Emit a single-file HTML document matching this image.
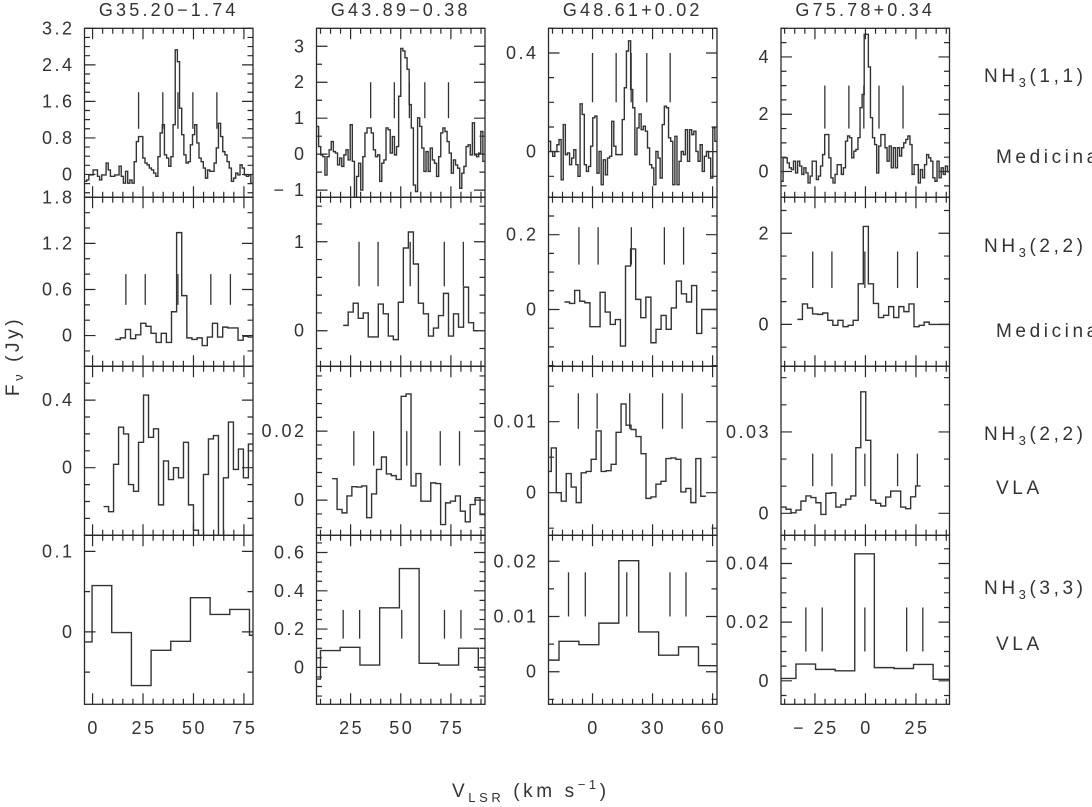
<!DOCTYPE html>
<html><head><meta charset="utf-8"><style>
html,body{margin:0;padding:0;background:#fff;}
svg{display:block;font-family:"Liberation Sans",sans-serif;}
text{fill:#333;font-size:18px;letter-spacing:2.5px;}
.big{font-size:19px;letter-spacing:3.6px;}
</style></head><body>
<svg id="fig" width="1092" height="807" viewBox="0 0 1092 807" xmlns="http://www.w3.org/2000/svg">
<g id="panels"></g>
<text class="big" transform="translate(19,356) rotate(-90)" text-anchor="middle">F<tspan font-size="13" dy="4">ν</tspan><tspan dy="-4"> (Jy)</tspan></text>
<text class="big" x="452" y="797">V<tspan font-size="13" dy="5">LSR</tspan><tspan dy="-5"> (km s</tspan><tspan font-size="13" dy="-8">−1</tspan><tspan dy="8">)</tspan></text>
<g>
<text class="big" x="984" y="82">NH<tspan font-size="13" dy="5">3</tspan><tspan dy="-5">(1,1)</tspan></text>
<text class="big" x="996" y="163">Medicina</text>
<text class="big" x="984" y="252">NH<tspan font-size="13" dy="5">3</tspan><tspan dy="-5">(2,2)</tspan></text>
<text class="big" x="996" y="337">Medicina</text>
<text class="big" x="984" y="440">NH<tspan font-size="13" dy="5">3</tspan><tspan dy="-5">(2,2)</tspan></text>
<text class="big" x="996" y="494">VLA</text>
<text class="big" x="984" y="594">NH<tspan font-size="13" dy="5">3</tspan><tspan dy="-5">(3,3)</tspan></text>
<text class="big" x="996" y="650">VLA</text>
</g>
</svg>
<script>
// ---- data ----
const sources = ["G35.20\u22121.74","G43.89\u22120.38","G48.61+0.02","G75.78+0.34"];
const xRanges = [[-4,79.5],[8,92],[-22,62.2],[-41.8,41.6]];
const xMajor = [25,25,30,25];
const xLabels = [[0,25,50,75],[25,50,75],[0,30,60],[-25,0,25]];
const yRanges = [
 [[-0.5,3.2],[-1.2,3.5],[-0.185,0.5],[-0.9,5.0]],
 [[-0.4,1.8],[-0.4,1.5],[-0.152,0.3],[-0.92,2.79]],
 [[-0.4,0.6],[-0.0102,0.0388],[-0.006,0.0178],[-0.0081,0.0542]],
 [[-0.09,0.12],[-0.193,0.69],[-0.0059,0.0247],[-0.008,0.0496]]];
const yMajor = [[0.8,1,0.4,2],[0.6,1,0.2,2],[0.4,0.02,0.01,0.03],[0.1,0.2,0.01,0.02]];
const yMinor = [[0.2,0.5,0.1,0.5],[0.2,0.2,0.05,0.5],[0.1,0.004,0.005,0.01],[0.05,0.05,0.005,0.005]];
const yLabels = [
 [[0,0.8,1.6,2.4,3.2],[-1,0,1,2,3],[0,0.4],[0,2,4]],
 [[0,0.6,1.2,1.8],[0,1],[0,0.2],[0,2]],
 [[0,0.4],[0,0.02],[0,0.01],[0,0.03]],
 [[0,0.1],[0,0.2,0.4,0.6],[0,0.01,0.02],[0,0.02,0.04]]];
const specSpan = [
 [[-4,79.5],[8,92],[-22,62.2],[-41.8,41.6]],
 [[11.2,79.7],[21.3,88.8],[-14,62.2],[-33.7,41.6]],
 [[5.45,79.7],[15.8,92],[-23.1,56.6],[-41.8,27.3]],
 [[-10,87.5],[0.15,98.5],[-26.7,62.9],[-44.1,43.2]]];
const flux_r1c1 = [-0.15,-0.12,-0.01,-0.01,0.10,0.10,-0.04,-0.12,-0.01,-0.01,0.25,0.10,-0.04,-0.04,-0.01,-0.01,0.18,-0.04,-0.19,0.07,-0.19,-0.12,-0.19,0.28,0.72,0.83,0.83,0.36,0.25,0.21,0.14,0.10,0.03,-0.04,0.39,0.91,1.09,0.43,0.36,0.18,0.39,1.09,2.73,2.47,1.45,0.87,0.43,0.25,0.28,0.65,0.87,1.09,0.69,0.36,0.28,0.14,-0.08,0.10,0.07,0.07,0.25,0.58,1.12,0.83,0.50,0.43,0.28,0.14,-0.15,-0.08,0.03,-0.01,0.21,0.14,-0.01,-0.04,-0.01,-0.19];
const flux_r1c2 = [0.77,0.21,-0.02,-0.07,-0.58,-0.07,0.12,0.35,0.07,0.03,-0.30,-0.11,-0.34,-0.02,0.12,-0.16,0.82,-0.20,-1.23,-0.62,-0.25,-1.00,-0.07,0.59,0.73,0.73,0.59,0.12,-0.07,-0.02,-0.76,-0.25,-0.16,0.73,0.68,0.03,0.49,-0.02,0.21,1.61,2.94,2.87,2.68,2.36,1.38,0.73,-0.86,-1.04,1.01,0.77,0.17,-0.48,0.07,-0.48,0.17,-0.16,-0.25,-0.62,-0.07,0.59,0.73,0.63,0.35,0.03,-0.53,-0.16,-0.30,-0.39,-0.95,-0.53,-0.34,0.21,0.26,-0.02,0.87,-0.02,-0.07,0.03,0.63,-0.20];
const flux_r1c3 = [0.042,0.001,-0.019,0.001,0.028,0.049,-0.114,0.110,-0.012,-0.005,-0.053,-0.026,0.008,-0.053,-0.100,0.194,0.151,-0.053,-0.080,-0.060,0.022,0.137,0.144,-0.087,0.001,-0.134,-0.033,-0.094,-0.026,-0.019,0.123,0.022,-0.012,-0.012,-0.012,0.130,0.259,0.408,0.449,0.252,0.178,-0.012,0.096,0.153,0.089,0.103,0.083,0.015,-0.053,-0.066,-0.134,0.001,-0.026,-0.107,0.110,0.184,0.178,0.056,0.042,-0.134,0.062,-0.134,-0.039,0.001,-0.012,0.089,-0.039,0.089,0.069,0.083,0.001,-0.039,0.028,-0.080,-0.019,0.001,-0.026,-0.107,0.096,0.042];
const flux_r1c4 = [-0.34,0.48,0.48,0.30,0.13,0.07,0.36,-0.05,0.36,0.19,-0.10,0.13,-0.05,-0.40,-0.16,0.36,0.36,-0.28,-0.16,0.19,0.59,1.29,1.29,0.48,-0.22,-0.40,-0.10,0.24,0.24,-0.10,0.13,1.06,1.24,1.18,0.48,0.71,0.77,1.18,2.23,2.69,4.79,4.79,3.65,1.88,1.18,0.94,-0.05,0.89,1.29,1.29,0.83,0.36,0.89,0.13,0.83,0.13,0.83,0.54,0.83,1.00,1.12,1.24,0.94,-0.10,0.24,0.24,-0.40,0.07,-0.22,0.24,0.59,0.48,0.36,-0.22,-0.34,0.36,-0.22,0.13,-0.10,0.19,-0.01];
const flux_r2c1 = [-0.05,-0.03,0.08,-0.04,0.01,0.16,0.12,0.03,-0.09,0.03,-0.09,0.31,1.34,0.52,-0.03,-0.05,-0.03,-0.13,-0.02,0.16,-0.02,0.11,0.10,0.10,-0.06,-0.01,-0.02];
const flux_r2c2 = [0.06,0.21,0.31,0.14,0.20,-0.07,-0.07,0.30,0.19,-0.06,-0.10,0.32,0.93,1.11,0.75,0.31,0.19,-0.06,0.03,0.17,0.42,-0.06,0.19,0.04,0.49,0.09,0.00];
const flux_r2c3 = [0.020,0.016,0.051,0.022,0.018,-0.046,-0.046,0.046,-0.007,-0.040,-0.027,-0.098,0.116,0.162,0.027,-0.022,0.033,-0.089,-0.053,-0.016,-0.053,0.004,0.076,0.042,0.020,0.064,-0.064,0,0,0];
const flux_r2c4 = [0.11,0.45,0.36,0.23,0.22,0.25,0.09,-0.02,0.09,-0.05,-0.02,0.09,0.89,2.15,0.89,0.46,0.15,0.20,0.39,0.15,0.39,0.28,0.45,-0.05,-0.02,0.05,0,0,0,0];
const flux_r3c1 = [-0.23,-0.26,0.02,0.24,0.20,-0.10,-0.14,0.15,0.43,0.18,0.23,-0.22,0.04,-0.07,0.00,-0.06,0.15,-0.22,-0.37,-0.46,-0.04,0.17,0.19,-0.46,-0.06,0.27,-0.01,0.11,-0.06,0.14];
const flux_r3c2 = [0.0062,-0.0027,-0.0037,0.0012,0.0039,0.0038,0.0041,-0.0051,0.0018,0.0089,0.0125,0.0076,0.0071,0.0060,0.0301,0.0308,0.0041,0.0077,-0.0003,-0.0003,0.0050,0.0048,-0.0071,-0.0008,-0.0003,0.0012,-0.0032,-0.0063,-0.0013,0.0007,-0.0042];
const flux_r3c3 = [0.0030,0.0063,0,-0.0012,0.0027,0.0008,-0.0014,0.0028,0.0030,0.0047,0.0087,0.0030,0.0031,0.0040,0.0085,0.0125,0.0095,0.0089,0.0079,0.0055,-0.0008,-0.0006,0.0012,0.0016,0.0048,0.0049,0.0047,0.0001,0.0006,-0.0014,0.0048,-0.0005];
const flux_r3c4 = [0.0023,0.0015,0.0002,0.0012,0.0045,0.0064,0.0058,0.0039,-0.0004,0.0074,0.0076,0.0023,0.0031,0.0052,0.0064,0.0242,0.0448,0.0269,0.0049,0.0037,0.0027,0.0060,0.0082,0.0082,0.0023,0.0017,0.0061,0.0101];
const flux_r4c1 = [-0.0125,0.0575,-0.0008,-0.0667,-0.0229,-0.0117,0.0425,0.0217,0.0279,-0.0042];
const flux_r4c2 = [-0.061,0.088,0.105,0.012,0.311,0.516,0.021,0.012,0.100,-0.014];
const flux_r4c3 = [0.0021,0.0055,0.0049,0.0088,0.0201,0.0072,0.0030,0.0045,0.0011];
const flux_r4c4 = [0.0008,0.0057,0.0039,0.0034,0.0433,0.0045,0.0042,0.0056,0.0005];
const fluxes = [[flux_r1c1,flux_r1c2,flux_r1c3,flux_r1c4],[flux_r2c1,flux_r2c2,flux_r2c3,flux_r2c4],[flux_r3c1,flux_r3c2,flux_r3c3,flux_r3c4],[flux_r4c1,flux_r4c2,flux_r4c3,flux_r4c4]];
const markV = [
 [[22.8,34.8,42.3,49.7,61.6],[35,46.8,54.3,62,73.8],[0,11.8,19.3,27.1,38.8],[-20.1,-8.2,-0.8,6.7,18.6]],
 [[16.5,26.1,42.3,58.6,68.3],[29.2,38.7,54.7,71.7,81.2],[-6.8,2.8,19.4,35.9,45.5],[-26.1,-16.6,-0.3,15.9,25.7]],
 [[],[26.6,36.5,53,69.7,79.3],[-7.1,2.3,18.6,35,44.8],[-26.1,-16.6,-0.3,15.9,25.7]],
 [[],[21.3,29.5,50.5,71.8,80],[-12,-3.6,17.1,38.7,46.7],[-29.5,-21.4,-0.3,20.4,28.4]]];
const markY = [
 [[1.0,1.8],[1.0,2.0],[0.2,0.4],[1.5,3.0]],
 [[0.4,0.8],[0.5,1.0],[0.12,0.22],[0.8,1.6]],
 [[0,0],[0.01,0.02],[0.009,0.014],[0.01,0.022]],
 [[0,0],[0.15,0.3],[0.01,0.018],[0.01,0.025]]];

// ---- layout ----
const colL = [84.5,316.5,548.5,781];
const PW = 168.5;
const rowT = [28.3,197.3,366.3,535.3];
const PH = 169;
const NS = "http://www.w3.org/2000/svg";
const root = document.getElementById('panels');
function mk(tag, attrs, parent){const e=document.createElementNS(NS,tag);for(const k in attrs)e.setAttribute(k,attrs[k]);(parent||root).appendChild(e);return e;}
function fmt(v){let s=String(Number(v.toFixed(4)));return s.replace('-','\u2212 ');}
const ink = '#2a2a2a';

for(let r=0;r<4;r++){for(let c=0;c<4;c++){
  const x0=colL[c], y0=rowT[r];
  const [xa,xb]=xRanges[c], [ya,yb]=yRanges[r][c];
  const X=v=>x0+(v-xa)/(xb-xa)*PW;
  const Y=v=>y0+PH-(v-ya)/(yb-ya)*PH;
  const g=mk('g',{});
  
  
  const cid='clip'+r+c;
  const cp=mk('clipPath',{id:cid},g); mk('rect',{x:x0,y:y0,width:PW,height:PH},cp);
  let d='';
  const eps=1e-9;
  for(let v=Math.ceil((xa-eps)/5)*5; v<=xb+eps; v+=5){
    const L=(Math.abs(v/xMajor[c]-Math.round(v/xMajor[c]))<1e-6)?11:5.5;
    const px=X(v); d+=`M${px} ${y0}v${L}M${px} ${y0+PH}v${-L}`;
  }
  const mn=yMinor[r][c], mj=yMajor[r][c];
  for(let k=Math.ceil((ya-eps)/mn); k*mn<=yb+eps; k++){
    const v=k*mn; const q=v/mj;
    const L=(Math.abs(q-Math.round(q))<1e-6)?11:5.5;
    const py=Y(v); d+=`M${x0} ${py}h${L}M${x0+PW} ${py}h${-L}`;
  }
  const ticks=mk('path',{d:d,stroke:ink,'stroke-width':1.2,fill:'none'},g);
  
  
  const fr=mk('rect',{x:x0,y:y0,width:PW,height:PH,fill:'none',stroke:ink,'stroke-width':1.3},g);
  
  
  const vals=fluxes[r][c]; const [s0,s1]=specSpan[r][c]; const dv=(s1-s0)/vals.length;
  let p='';
  vals.forEach((f,i)=>{const a=X(s0+i*dv),b=X(s0+(i+1)*dv),y=Y(f); p+=(i===0?`M${a} ${y}`:`V${y}`)+`H${b}`;});
  const sp=mk('path',{d:p,stroke:'#333','stroke-width':1.4,fill:'none','clip-path':`url(#${cid})`},g);
  
  
  const [ml,mh]=markY[r][c];
  markV[r][c].forEach(v=>{
    const ln=mk('line',{x1:X(v),x2:X(v),y1:Y(ml),y2:Y(mh),stroke:'#333','stroke-width':1.3},g);
    
    
  });
  yLabels[r][c].forEach(v=>{
    const t=mk('text',{x:x0-10,y:Y(v)+6,'text-anchor':'end'},g); t.textContent=fmt(v);
    
    
  });
  if(r===0){
    const t=mk('text',{x:x0+PW/2,y:16,'text-anchor':'middle',style:'letter-spacing:3.2px'},g); t.textContent=sources[c];
    
    
  }
  if(r===3){
    xLabels[c].forEach(v=>{
      const t=mk('text',{x:X(v)+1,y:734,'text-anchor':'middle'},g); t.textContent=fmt(v);
      
      
    });
  }
}}
</script>
</body></html>
